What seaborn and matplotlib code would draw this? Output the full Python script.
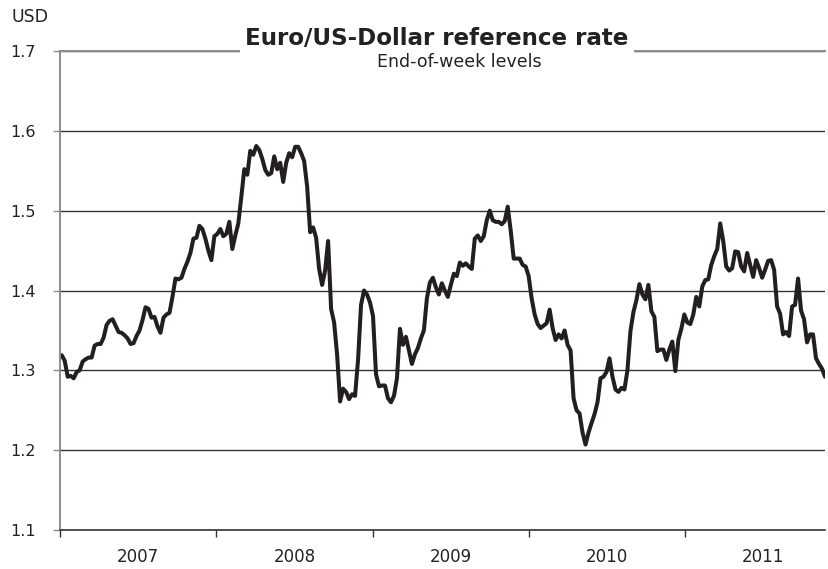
import numpy as np
import pandas as pd
import matplotlib
matplotlib.use("Agg")
import matplotlib.pyplot as plt
import matplotlib.dates as mdates
import seaborn as sns

# end-of-week EUR/USD reference rate (one value per week)
rate_2007 = [1.319, 1.312, 1.292, 1.293, 1.290, 1.298, 1.300, 1.311, 1.314, 1.316,
             1.316, 1.331, 1.333, 1.333, 1.341, 1.357, 1.362, 1.364, 1.356, 1.348,
             1.347, 1.344, 1.340, 1.333, 1.334, 1.343, 1.350, 1.363, 1.379, 1.377,
             1.366, 1.367, 1.355, 1.347, 1.366, 1.370, 1.372, 1.392, 1.415, 1.414,
             1.416, 1.427, 1.436, 1.447, 1.465, 1.466, 1.481, 1.477, 1.465, 1.450,
             1.438, 1.468]
rate_2008 = [1.471, 1.477, 1.468, 1.471, 1.486, 1.452, 1.469, 1.484, 1.517, 1.552,
             1.545, 1.575, 1.570, 1.581, 1.576, 1.565, 1.551, 1.545, 1.547, 1.568,
             1.552, 1.560, 1.536, 1.560, 1.572, 1.567, 1.580, 1.580, 1.572, 1.562,
             1.530, 1.473, 1.479, 1.466, 1.427, 1.407, 1.425, 1.462, 1.377, 1.360,
             1.320, 1.261, 1.277, 1.273, 1.264, 1.270, 1.268, 1.313, 1.382, 1.400,
             1.395, 1.385]
rate_2009 = [1.368, 1.295, 1.280, 1.281, 1.281, 1.265, 1.260, 1.268, 1.290, 1.352,
             1.332, 1.342, 1.325, 1.308, 1.320, 1.328, 1.340, 1.350, 1.390, 1.410,
             1.416, 1.404, 1.395, 1.409, 1.400, 1.392, 1.407, 1.421, 1.418, 1.435,
             1.431, 1.434, 1.430, 1.427, 1.465, 1.469, 1.462, 1.468, 1.488, 1.500,
             1.488, 1.486, 1.486, 1.483, 1.487, 1.505, 1.475, 1.440, 1.440, 1.440,
             1.432, 1.430]
rate_2010 = [1.418, 1.390, 1.370, 1.358, 1.353, 1.356, 1.359, 1.376, 1.353, 1.338,
             1.345, 1.340, 1.350, 1.332, 1.325, 1.265, 1.250, 1.246, 1.222, 1.207,
             1.222, 1.234, 1.245, 1.260, 1.290, 1.292, 1.298, 1.315, 1.292, 1.276,
             1.273, 1.278, 1.276, 1.300, 1.349, 1.373, 1.388, 1.408, 1.395, 1.389,
             1.407, 1.374, 1.367, 1.324, 1.326, 1.326, 1.313, 1.326, 1.336, 1.299,
             1.338, 1.352]
rate_2011 = [1.370, 1.360, 1.358, 1.370, 1.392, 1.380, 1.405, 1.413, 1.414, 1.432,
             1.443, 1.452, 1.484, 1.462, 1.430, 1.425, 1.428, 1.449, 1.448, 1.430,
             1.424, 1.447, 1.432, 1.417, 1.438, 1.428, 1.416, 1.426, 1.437, 1.438,
             1.426, 1.380, 1.371, 1.345, 1.348, 1.343, 1.380, 1.382, 1.415, 1.375,
             1.364, 1.335, 1.345, 1.345, 1.315, 1.308, 1.302, 1.292]

years = [2007, 2008, 2009, 2010, 2011]
y_ticks = [1.1, 1.2, 1.3, 1.4, 1.5, 1.6, 1.7]

rates = rate_2007 + rate_2008 + rate_2009 + rate_2010 + rate_2011
weeks = pd.date_range("2007-01-05", periods=len(rates), freq="7D")
df = pd.DataFrame({"week": weeks, "rate": rates})

sns.set_style("white")
plt.rcParams["font.family"] = ["DejaVu Sans"]

fig = plt.figure(figsize=(8.29, 5.69), dpi=100)
ax = fig.add_axes([60 / 829, 1 - 530 / 569, 765 / 829, 479 / 569])

sns.lineplot(data=df, x="week", y="rate", color="#231f20", lw=2.9, ax=ax)

ax.set_ylim(1.1, 1.7)
ax.set_yticks(y_ticks)
ax.set_yticklabels([f"{v:.1f}" for v in y_ticks])
ax.set_xlim(pd.Timestamp("2007-01-01"), weeks[-1])

# year boundaries as ticks, labels centred in between
starts = [pd.Timestamp(f"{y}-01-01") for y in years]
mids = [pd.Timestamp(f"{y}-07-02") for y in years]
ax.set_xticks(starts)
ax.set_xticklabels([])
ax.set_xticks(mids, minor=True)
ax.set_xticklabels([str(y) for y in years], minor=True)
ax.tick_params(bottom=True, left=True)
ax.tick_params(axis="x", which="major", length=5, width=1, color="#333333", direction="out")
ax.tick_params(axis="x", which="minor", length=0, pad=13, labelsize=12, labelcolor="#222222")
ax.tick_params(axis="y", length=5, width=1, color="#8c8c8c", direction="out",
               labelsize=11.5, labelcolor="#222222", pad=12.5)

ax.set_xlabel("")
ax.set_ylabel("")
ax.grid(axis="y", color="#333333", lw=1)
ax.grid(axis="x", visible=False)

for side in ["left", "top"]:
    ax.spines[side].set_color("#8c8c8c")
    ax.spines[side].set_linewidth(1.4)
ax.spines["bottom"].set_color("#333333")
ax.spines["bottom"].set_linewidth(1.2)
ax.spines["right"].set_visible(False)
ax.spines["top"].set_zorder(3)

ax.text(0.493, 1.027, "Euro/US-Dollar reference rate", transform=ax.transAxes,
        ha="center", va="center", fontsize=16.6, fontweight="bold", color="#222222",
        bbox=dict(facecolor="white", edgecolor="none", pad=4), zorder=5, clip_on=False)
ax.text(0.5216, 0.977, "End-of-week levels", transform=ax.transAxes,
        ha="center", va="center", fontsize=12.5, color="#222222", zorder=6)
fig.text(12 / 829, 1 - 17 / 569, "USD", ha="left", va="center", fontsize=12.5, color="#222222")

plt.savefig("out.png", dpi=100)
